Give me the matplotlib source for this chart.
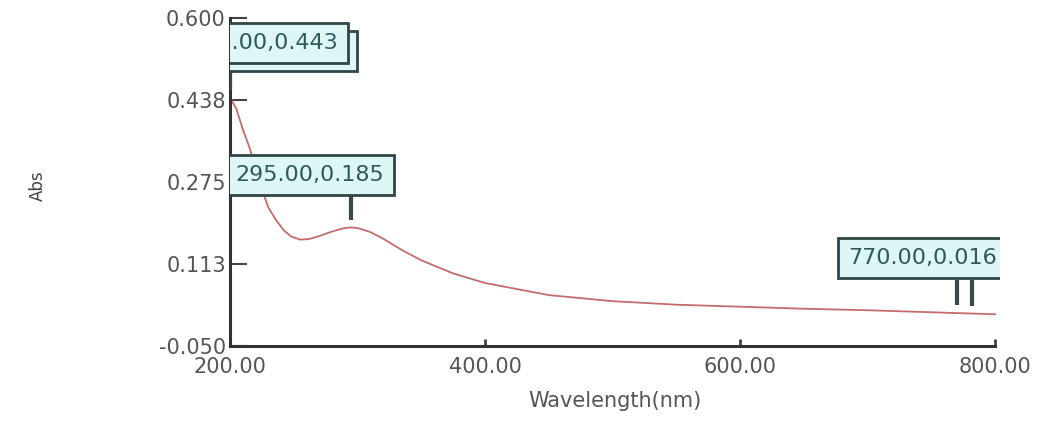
import numpy as np
import matplotlib
matplotlib.use("Agg")
import matplotlib.pyplot as plt
import matplotlib.patheffects as pe

# spectrum
wavelength = [200, 205, 210, 216, 223, 230, 236, 242, 248, 255, 262, 270, 280, 290, 295,
              300, 310, 320, 335, 350, 375, 400, 450, 500, 550, 600, 650, 700, 750, 800]
absorbance = [0.443, 0.420, 0.380, 0.338, 0.275, 0.225, 0.200, 0.180, 0.167, 0.161, 0.162,
              0.168, 0.177, 0.184, 0.185, 0.184, 0.176, 0.163, 0.140, 0.120, 0.094, 0.075,
              0.051, 0.039, 0.032, 0.028, 0.024, 0.021, 0.017, 0.013]

# peak picks
peak_x = [200.0, 295.0, 770.0, 782.0]
peak_y = [0.443, 0.185, 0.016, 0.015]
peak_labels = ["200.00,0.443", "295.00,0.185", "770.00,0.016"]

x_ticks = [200, 400, 600, 800]
y_ticks = [-0.050, 0.113, 0.275, 0.438, 0.600]

text_col = "#555555"
box_text = "#2f5a5a"
box_fill = "#dff6f6"
box_edge = "#2f4646"
box_kw = dict(boxstyle="square,pad=0.45", facecolor=box_fill, edgecolor=box_edge, linewidth=2)

fig = plt.figure(figsize=(10.6, 4.21), dpi=100)
ax = fig.add_axes([0.217, 0.178, 0.7264, 0.779])

ax.plot(wavelength, absorbance, color="#c46c6c", linewidth=1.3)

# marker lines above each peak
for px, py in zip(peak_x, peak_y):
    ax.plot([px, px], [py + 0.015, py + 0.065], color="#3a4a4a", linewidth=3,
            solid_capstyle="butt", zorder=4)

# label boxes (clipped to the axes like in the original)
t0 = ax.text(285.0, 0.551, peak_labels[0], ha="right", va="center", fontsize=16,
             color=box_text, bbox=box_kw, clip_on=True, zorder=5)
# second outline behind the first box, offset down-right
t0.get_bbox_patch().set_path_effects([
    pe.Stroke(offset=(6, -6), linewidth=2, foreground=box_edge),
    pe.Normal()])
ax.text(204.0, 0.289, peak_labels[1], ha="left", va="center", fontsize=16, color=box_text,
        bbox=box_kw, clip_on=True, zorder=5)
ax.text(685.0, 0.124, peak_labels[2], ha="left", va="center", fontsize=16, color=box_text,
        bbox=box_kw, clip_on=True, zorder=5)

ax.set_xlim(200, 803.9)
ax.set_ylim(-0.05, 0.6)
ax.set_xticks(x_ticks)
ax.set_xticklabels([f"{v:.2f}" for v in x_ticks])
ax.set_yticks(y_ticks)
ax.set_yticklabels([f"{v:.3f}" for v in y_ticks])

ax.spines["top"].set_visible(False)
ax.spines["right"].set_visible(False)
for s in ["left", "bottom"]:
    ax.spines[s].set_color("#333333")
    ax.spines[s].set_linewidth(2.2)
ax.spines["bottom"].set_bounds(200, 800)

ax.tick_params(direction="in", color="#444444", labelcolor=text_col, labelsize=15)
ax.tick_params(axis="x", length=5, width=2, pad=8)
ax.tick_params(axis="y", length=12, width=1.5, pad=3)

ax.set_xlabel("Wavelength(nm)", fontsize=15, color=text_col, labelpad=10)
ax.set_ylabel("Abs", fontsize=12, color="#444444")
ax.yaxis.set_label_coords(-0.238, 0.49)

fig.savefig("out.png", dpi=100)
